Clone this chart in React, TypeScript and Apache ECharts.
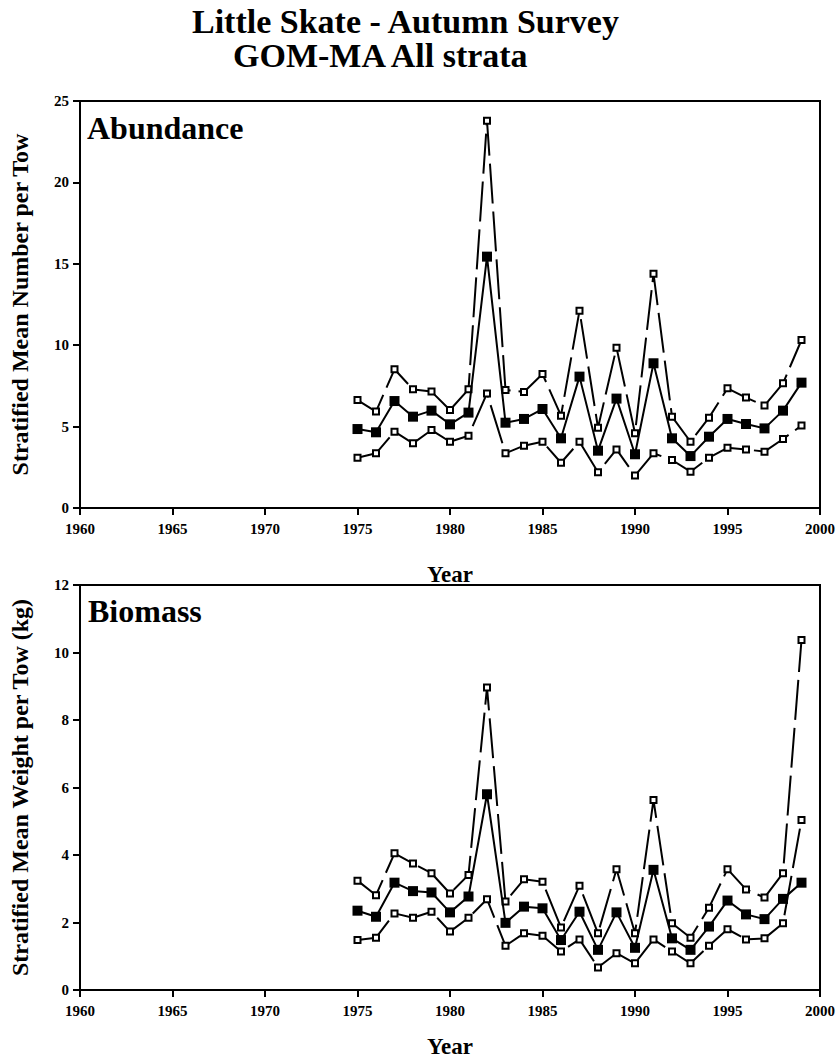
import React, { useEffect, useRef } from 'react';
import * as echarts from 'echarts';

const years = [1975, 1976, 1977, 1978, 1979, 1980, 1981, 1982, 1983, 1984, 1985, 1986, 1987, 1988, 1989, 1990, 1991, 1992, 1993, 1994, 1995, 1996, 1997, 1998, 1999];

const abundMean = [4.85, 4.65, 6.57, 5.61, 5.98, 5.14, 5.86, 15.44, 5.24, 5.47, 6.08, 4.28, 8.07, 3.52, 6.72, 3.30, 8.89, 4.28, 3.19, 4.38, 5.47, 5.16, 4.89, 5.98, 7.70];
const abundUpper = [6.63, 5.92, 8.52, 7.29, 7.15, 6.02, 7.29, 23.79, 7.25, 7.13, 8.23, 5.67, 12.12, 4.93, 9.85, 4.59, 14.39, 5.61, 4.07, 5.55, 7.35, 6.78, 6.29, 7.66, 10.32];
const abundLower = [3.09, 3.36, 4.69, 3.97, 4.79, 4.07, 4.44, 7.04, 3.36, 3.83, 4.07, 2.78, 4.07, 2.19, 3.60, 1.99, 3.36, 2.95, 2.23, 3.09, 3.70, 3.60, 3.46, 4.24, 5.06];

const bioMean = [2.35, 2.17, 3.18, 2.93, 2.89, 2.30, 2.77, 5.80, 1.99, 2.47, 2.42, 1.48, 2.32, 1.19, 2.30, 1.25, 3.56, 1.53, 1.19, 1.88, 2.65, 2.24, 2.10, 2.70, 3.18];
const bioUpper = [3.24, 2.81, 4.05, 3.75, 3.46, 2.86, 3.41, 8.96, 2.62, 3.28, 3.21, 1.85, 3.09, 1.68, 3.58, 1.68, 5.63, 1.98, 1.55, 2.44, 3.58, 2.98, 2.74, 3.46, 10.37];
const bioLower = [1.48, 1.55, 2.27, 2.14, 2.32, 1.73, 2.14, 2.69, 1.31, 1.68, 1.61, 1.14, 1.50, 0.67, 1.09, 0.79, 1.50, 1.14, 0.79, 1.31, 1.80, 1.50, 1.53, 1.98, 5.04];

const titleLine1 = 'Little Skate - Autumn Survey';
const titleLine2 = 'GOM-MA All strata';
const panel1 = 'Abundance';
const panel2 = 'Biomass';
const yName1 = 'Stratified Mean Number per Tow';
const yName2 = 'Stratified Mean Weight per Tow (kg)';
const xName = 'Year';

const FONT = '"Liberation Serif", "Times New Roman", serif';

function pairs(vals: number[]) {
  return years.map((y, i) => [y, vals[i]]);
}

function ciSeries(vals: number[], idx: number) {
  return {
    type: 'line',
    xAxisIndex: idx,
    yAxisIndex: idx,
    data: pairs(vals),
    symbol: 'rect',
    symbolSize: 6,
    itemStyle: { color: '#fff', borderColor: '#000', borderWidth: 2 },
    lineStyle: { color: '#000', width: 2, type: [40, 8] },
    silent: true,
    z: 2,
  };
}

function meanSeries(vals: number[], idx: number) {
  return {
    type: 'line',
    xAxisIndex: idx,
    yAxisIndex: idx,
    data: pairs(vals),
    symbol: 'rect',
    symbolSize: 10,
    itemStyle: { color: '#000', borderColor: '#000', borderWidth: 0 },
    lineStyle: { color: '#000', width: 2 },
    silent: true,
    z: 3,
  };
}

function xAxis(idx: number, gap: number) {
  return {
    type: 'value',
    gridIndex: idx,
    min: 1960,
    max: 2000,
    interval: 5,
    axisLine: { show: true, onZero: false, lineStyle: { color: '#000', width: 2 } },
    axisTick: { show: true, length: 7, lineStyle: { color: '#000', width: 2 } },
    axisLabel: {
      color: '#000', fontFamily: FONT, fontWeight: 'bold', fontSize: 15, margin: 13,
      formatter: (v: number) => String(v),
    },
    splitLine: { show: false },
    name: xName,
    nameLocation: 'middle',
    nameGap: gap,
    nameTextStyle: { color: '#000', fontFamily: FONT, fontWeight: 'bold', fontSize: 23 },
  };
}

function yAxis(idx: number, max: number, interval: number, name: string) {
  return {
    type: 'value',
    gridIndex: idx,
    min: 0,
    max,
    interval,
    axisLine: { show: true, lineStyle: { color: '#000', width: 2 } },
    axisTick: { show: true, length: 7, lineStyle: { color: '#000', width: 2 } },
    axisLabel: { color: '#000', fontFamily: FONT, fontWeight: 'bold', fontSize: 15, margin: 11 },
    splitLine: { show: false },
    name,
    nameLocation: 'middle',
    nameGap: 48,
    nameTextStyle: { color: '#000', fontFamily: FONT, fontWeight: 'bold', fontSize: 24 },
  };
}

function textEl(text: string, x: number, y: number, size: number) {
  return {
    type: 'text',
    x,
    y,
    silent: true,
    style: {
      text,
      font: `bold ${size}px ${FONT}`,
      fill: '#000',
      textAlign: 'left',
      textVerticalAlign: 'middle',
    },
  };
}

export default function App() {
  const ref = useRef<HTMLDivElement>(null);
  useEffect(() => {
    if (!ref.current) return;
    const chart = echarts.init(ref.current, null, { renderer: 'svg' });
    chart.setOption({
      animation: false,
      backgroundColor: '#fff',
      grid: [
        { left: 75, top: 101, width: 746, height: 407, show: true, borderColor: '#000', borderWidth: 2, backgroundColor: 'transparent' },
        { left: 75, top: 585, width: 746, height: 405, show: true, borderColor: '#000', borderWidth: 2, backgroundColor: 'transparent' },
      ],
      xAxis: [xAxis(0, 55), xAxis(1, 45)],
      yAxis: [yAxis(0, 25, 5, yName1), yAxis(1, 12, 2, yName2)],
      series: [
        ciSeries(abundUpper, 0),
        ciSeries(abundLower, 0),
        meanSeries(abundMean, 0),
        ciSeries(bioUpper, 1),
        ciSeries(bioLower, 1),
        meanSeries(bioMean, 1),
      ],
      graphic: [
        textEl(titleLine1, 192, 21, 34),
        textEl(titleLine2, 233, 55, 34),
        textEl(panel1, 87, 128, 32),
        textEl(panel2, 88, 611, 32),
      ],
    });
    return () => chart.dispose();
  }, []);
  return <div ref={ref} style={{ position: 'absolute', left: 0, top: 0, width: 838, height: 1063 }} />;
}
